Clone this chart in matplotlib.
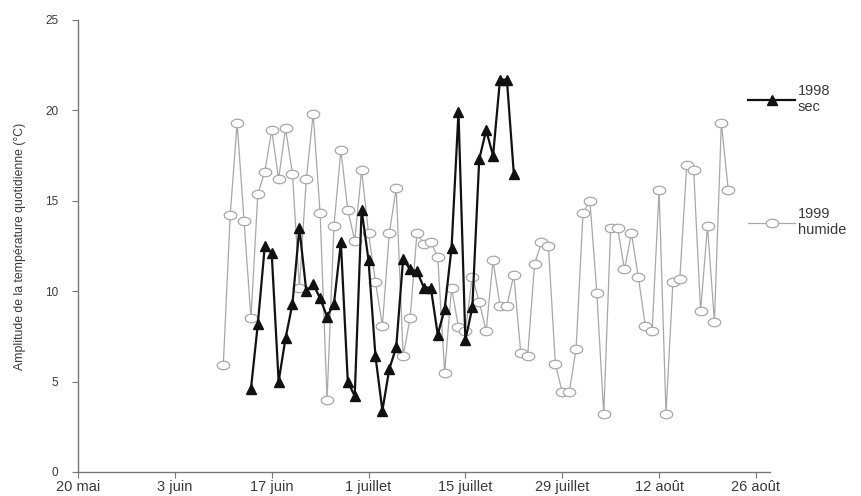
import matplotlib
matplotlib.use('Agg')
import numpy as np
import matplotlib.pyplot as plt
from matplotlib.lines import Line2D

plt.rcParams['font.family'] = ['Liberation Sans', 'DejaVu Sans']

# jours comptés depuis le 20 mai
tick_days = [0, 14, 28, 42, 56, 70, 84, 98]
tick_labels = ['20 mai', '3 juin', '17 juin', '1 juillet', '15 juillet',
               '29 juillet', '12 août', '26 août']

# 1998 sec : du jour 25 au jour 63
start_1998 = 25
amp_1998 = [4.6, 8.2, 12.5, 12.1, 5.0, 7.4, 9.3, 13.5, 10.0, 10.4,
            9.6, 8.6, 9.3, 12.7, 5.0, 4.2, 14.5, 11.7, 6.4, 3.4,
            5.7, 6.9, 11.8, 11.2, 11.1, 10.2, 10.2, 7.6, 9.0, 12.4,
            19.9, 7.3, 9.1, 17.3, 18.9, 17.5, 21.7, 21.7, 16.5]

# 1999 humide : du jour 21 au jour 94
start_1999 = 21
amp_1999 = [5.9, 14.2, 19.3, 13.9, 8.5, 15.4, 16.6, 18.9, 16.2, 19.0,
            16.5, 10.2, 16.2, 19.8, 14.3, 4.0, 13.6, 17.8, 14.5, 12.8,
            16.7, 13.2, 10.5, 8.1, 13.2, 15.7, 6.4, 8.5, 13.2, 12.6,
            12.7, 11.9, 5.5, 10.2, 8.0, 7.8, 10.8, 9.4, 7.8, 11.7,
            9.2, 9.2, 10.9, 6.6, 6.4, 11.5, 12.7, 12.5, 6.0, 4.4,
            4.4, 6.8, 14.3, 15.0, 9.9, 3.2, 13.5, 13.5, 11.2, 13.2,
            10.8, 8.1, 7.8, 15.6, 3.2, 10.5, 10.7, 17.0, 16.7, 8.9,
            13.6, 8.3, 19.3, 15.6]

days_1998 = [start_1998 + i for i in range(len(amp_1998))]
days_1999 = [start_1999 + i for i in range(len(amp_1999))]

gray = '#a8a8a8'
txt = '#3a3a3a'

# marqueur ovale (plus large que haut)
t = np.linspace(0, 2 * np.pi, 40)
ellipse = list(zip(np.cos(t), 0.68 * np.sin(t)))

fig = plt.figure(figsize=(8.62, 4.96), dpi=100)
ax = fig.add_axes([0.0905, 0.0484, 0.8025, 0.9113])

ax.plot(days_1999, amp_1999, color=gray, lw=0.9, marker=ellipse, ms=9,
        mfc='white', mec=gray, mew=0.9, zorder=2)
ax.plot(days_1998, amp_1998, color='#111111', lw=1.6, marker='^', ms=7,
        mfc='#111111', mec='#111111', zorder=3)

ax.set_xlim(0, 100)
ax.set_ylim(0, 25)
ax.set_xticks(tick_days)
ax.set_xticklabels(tick_labels, fontsize=10.5, color=txt)
ax.set_yticks([0, 5, 10, 15, 20, 25])
ax.tick_params(axis='y', labelsize=8.5, colors=txt, length=4, width=0.8,
               direction='out', color='#777777', pad=10)
ax.tick_params(axis='x', length=4, width=0.8, direction='out',
               color='#777777', pad=2)
ax.set_ylabel('Amplitude de la température quotidienne (°C)', fontsize=8.8,
              color=txt, labelpad=14)

for s in ['top', 'right']:
    ax.spines[s].set_visible(False)
for s in ['left', 'bottom']:
    ax.spines[s].set_color('#777777')
    ax.spines[s].set_linewidth(1.0)

# légendes à droite
h98 = Line2D([], [], color='#111111', lw=1.6, marker='^', ms=7)
h99 = Line2D([], [], color=gray, lw=0.9, marker=ellipse, ms=9, mfc='white',
             mec=gray, mew=0.9)
leg1 = fig.legend([h98], ['1998\nsec'], loc='center left',
                  bbox_to_anchor=(0.853, 0.80), frameon=False, fontsize=10.5,
                  handlelength=3.2, handletextpad=0.2, labelcolor=txt)
leg2 = fig.legend([h99], ['1999\nhumide'], loc='center left',
                  bbox_to_anchor=(0.853, 0.552), frameon=False, fontsize=10.5,
                  handlelength=3.2, handletextpad=0.2, labelcolor=txt)

fig.savefig('out.png', dpi=100)
